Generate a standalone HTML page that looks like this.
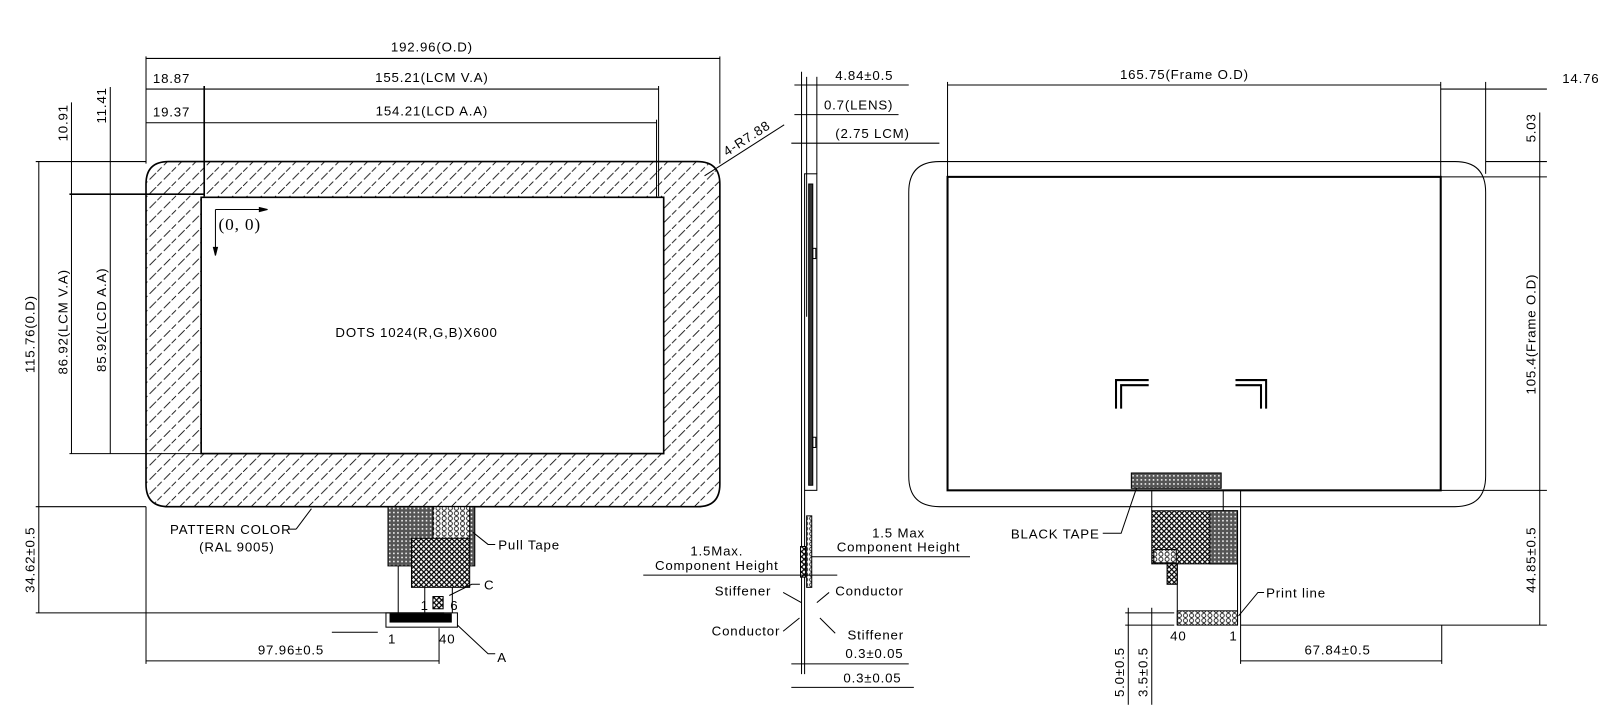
<!DOCTYPE html>
<html><head><meta charset="utf-8"><style>
html,body{margin:0;padding:0;background:#fff;}
svg{display:block}
text{font-family:"Liberation Sans",sans-serif;font-size:13px;fill:#000;letter-spacing:0.8px}
</style></head><body>
<svg width="1600" height="705" viewBox="0 0 1567 690" xmlns="http://www.w3.org/2000/svg">
<defs>
<pattern id="h" width="14" height="14" patternUnits="userSpaceOnUse">
<line x1="-2" y1="16" x2="16" y2="-2" stroke="#000" stroke-width="0.8" stroke-dasharray="9,3"/>
</pattern>
<pattern id="x" width="5" height="5" patternUnits="userSpaceOnUse">
<rect width="5" height="5" fill="#fff"/><path d="M0 0L5 5M5 0L0 5" stroke="#000" stroke-width="1.2"/>
</pattern>
<pattern id="d" width="4" height="4" patternUnits="userSpaceOnUse">
<rect width="4" height="4" fill="#555"/><rect x="1" y="1" width="1.5" height="1.5" fill="#fff"/>
</pattern>
<pattern id="c" width="6" height="5" patternUnits="userSpaceOnUse">
<rect width="6" height="5" fill="#fff"/><circle cx="3" cy="2.5" r="2" fill="none" stroke="#000" stroke-width="0.8"/>
</pattern>
</defs>
<g stroke="#000" fill="none" stroke-width="1">
<!-- LEFT VIEW -->
<path fill="url(#h)" fill-rule="evenodd" stroke-width="1.6" d="M165 158H683Q705 158 705 180V474Q705 496 683 496H165Q143 496 143 474V180Q143 158 165 158ZM197 193V444H650V193Z"/>
<rect x="197" y="193" width="453" height="251" stroke-width="1.2"/>
<line x1="143" y1="55" x2="143" y2="160"/><line x1="705" y1="55" x2="705" y2="160"/>
<line x1="143" y1="57" x2="705" y2="57"/>
<line x1="200" y1="84" x2="200" y2="192" stroke-width="1.6"/><line x1="645" y1="84" x2="645" y2="192"/>
<line x1="143" y1="87" x2="645" y2="87"/>
<line x1="643" y1="117" x2="643" y2="193"/>
<line x1="143" y1="120" x2="643" y2="120"/>
<line x1="35" y1="158" x2="143" y2="158"/><line x1="35" y1="496" x2="143" y2="496"/>
<line x1="38" y1="158" x2="38" y2="496"/>
<line x1="68" y1="190" x2="200" y2="190" stroke-width="1.6"/>
<line x1="68" y1="444" x2="197" y2="444"/>
<line x1="70" y1="100" x2="70" y2="444"/><line x1="108" y1="85" x2="108" y2="444"/>
<line x1="38" y1="496" x2="38" y2="600"/>
<line x1="35" y1="600" x2="435" y2="600"/>
<line x1="143" y1="496" x2="143" y2="650"/>
<line x1="143" y1="647" x2="430" y2="647"/>
<line x1="430" y1="615" x2="430" y2="650"/>
<line x1="211" y1="205" x2="211" y2="250"/><line x1="211" y1="205" x2="262" y2="205"/>
<path d="M262 205L254 203V207Z M211 250L209 242H213Z" fill="#000"/>
<line x1="690" y1="172" x2="768" y2="122"/>
<rect x="380" y="496" width="85" height="58" fill="url(#d)"/>
<rect x="424" y="496" width="36" height="35" fill="url(#c)"/>
<rect x="403" y="527" width="57" height="48" fill="url(#x)"/>
<line x1="390" y1="554" x2="390" y2="600"/>
<line x1="416" y1="575" x2="416" y2="600"/><line x1="443" y1="575" x2="443" y2="600"/>
<rect x="424" y="584" width="10" height="12" fill="url(#x)"/>
<rect x="378" y="600" width="70" height="14"/>
<rect x="382" y="601" width="60" height="8" fill="#000"/>
<line x1="305" y1="498" x2="290" y2="518"/><line x1="290" y1="518" x2="282" y2="518"/>
<path d="M463 521L478 533H485"/>
<path d="M440 583L462 572H470"/>
<path d="M448 612L478 640H485"/>
<line x1="325" y1="619" x2="370" y2="619"/>
<!-- SIDE VIEW -->
<line x1="785" y1="70" x2="785" y2="660"/>
<line x1="790" y1="75" x2="790" y2="310"/>
<line x1="800" y1="75" x2="800" y2="170"/>
<rect x="788" y="170" width="12" height="310"/>
<rect x="792" y="180" width="4" height="295" fill="#333"/>
<rect x="796" y="243" width="3" height="10"/><rect x="796" y="428" width="3" height="10"/>
<line x1="788" y1="480" x2="788" y2="660"/>
<rect x="790" y="505" width="5" height="70" fill="url(#c)"/>
<rect x="784" y="535" width="5" height="30" fill="url(#x)"/>
<line x1="778" y1="83" x2="890" y2="83"/>
<line x1="778" y1="112" x2="880" y2="112"/>
<line x1="775" y1="140" x2="920" y2="140"/>
<line x1="630" y1="563" x2="820" y2="563"/>
<line x1="795" y1="545" x2="950" y2="545"/>
<path d="M767 580L785 590M812 580L800 590"/>
<path d="M767 618L783 605M818 620L803 605"/>
<line x1="775" y1="650" x2="890" y2="650"/>
<line x1="775" y1="673" x2="895" y2="673"/>
<!-- RIGHT VIEW -->
<path d="M920 158H1425Q1455 158 1455 188V466Q1455 496 1425 496H920Q890 496 890 466V188Q890 158 920 158Z"/>
<rect x="928" y="173" width="483" height="307" stroke-width="2"/>
<line x1="928" y1="80" x2="928" y2="173"/><line x1="1411" y1="80" x2="1411" y2="173"/>
<line x1="1455" y1="80" x2="1455" y2="170"/>
<line x1="928" y1="83" x2="1411" y2="83"/>
<line x1="1411" y1="87" x2="1515" y2="87"/>
<line x1="1455" y1="158" x2="1515" y2="158"/>
<line x1="1411" y1="173" x2="1515" y2="173"/>
<line x1="1411" y1="480" x2="1515" y2="480"/>
<line x1="1508" y1="110" x2="1508" y2="612"/>
<line x1="1215" y1="612" x2="1515" y2="612"/>
<line x1="1215" y1="480" x2="1215" y2="650"/>
<line x1="1215" y1="647" x2="1412" y2="647"/>
<line x1="1412" y1="612" x2="1412" y2="650"/>
<path stroke-width="2" d="M1093 400V372H1125M1098 400V377H1125M1240 400V372H1210M1235 400V377H1210"/>
<rect x="1108" y="463" width="88" height="15" fill="url(#d)"/>
<line x1="1128" y1="480" x2="1128" y2="500"/><line x1="1198" y1="480" x2="1198" y2="500"/>
<rect x="1128" y="500" width="84" height="52" fill="url(#x)"/>
<rect x="1185" y="500" width="27" height="52" fill="url(#d)"/>
<rect x="1130" y="538" width="22" height="13" fill="url(#c)"/>
<rect x="1143" y="552" width="10" height="20" fill="url(#x)"/>
<line x1="1153" y1="552" x2="1153" y2="612"/><line x1="1212" y1="552" x2="1212" y2="612"/>
<rect x="1153" y="598" width="59" height="14" fill="url(#c)"/>
<line x1="1102" y1="600" x2="1150" y2="600"/><line x1="1102" y1="612" x2="1150" y2="612"/>
<line x1="1105" y1="595" x2="1105" y2="690"/><line x1="1128" y1="595" x2="1128" y2="690"/>
<path d="M1113 478L1098 522H1080"/>
<path d="M1213 603L1232 580H1238"/>
</g>
<text x="423" y="50" text-anchor="middle">192.96(O.D)</text>
<text x="168" y="81" text-anchor="middle">18.87</text>
<text x="423" y="80" text-anchor="middle">155.21(LCM V.A)</text>
<text x="168" y="114" text-anchor="middle">19.37</text>
<text x="423" y="113" text-anchor="middle">154.21(LCD A.A)</text>
<text transform="translate(712,153) rotate(-33)">4-R7.88</text>
<text transform="translate(34,327) rotate(-90)" text-anchor="middle">115.76(0.D)</text>
<text transform="translate(66,315) rotate(-90)" text-anchor="middle">86.92(LCM V.A)</text>
<text transform="translate(104,313) rotate(-90)" text-anchor="middle">85.92(LCD A.A)</text>
<text transform="translate(66,120) rotate(-90)" text-anchor="middle">10.91</text>
<text transform="translate(104,103) rotate(-90)" text-anchor="middle">11.41</text>
<text transform="translate(34,548) rotate(-90)" text-anchor="middle">34.62±0.5</text>
<text x="285" y="641" text-anchor="middle">97.96±0.5</text>
<text x="214" y="225" style="font-family:'Liberation Serif',serif;font-size:17px">(0, 0)</text>
<text x="408" y="330" text-anchor="middle">DOTS 1024(R,G,B)X600</text>
<text x="226" y="523" text-anchor="middle">PATTERN COLOR</text>
<text x="232" y="540" text-anchor="middle">(RAL 9005)</text>
<text x="488" y="538">Pull Tape</text>
<text x="474" y="577">C</text>
<text x="412" y="597">1</text>
<text x="441" y="597">6</text>
<text x="380" y="630">1</text>
<text x="430" y="630">40</text>
<text x="487" y="648">A</text>
<text x="818" y="78">4.84±0.5</text>
<text x="807" y="107">0.7(LENS)</text>
<text x="818" y="135">(2.75 LCM)</text>
<text x="702" y="544" text-anchor="middle">1.5Max.</text>
<text x="702" y="558" text-anchor="middle">Component Height</text>
<text x="880" y="526" text-anchor="middle">1.5 Max</text>
<text x="880" y="540" text-anchor="middle">Component Height</text>
<text x="700" y="583">Stiffener</text>
<text x="818" y="583">Conductor</text>
<text x="697" y="622">Conductor</text>
<text x="830" y="626">Stiffener</text>
<text x="828" y="644">0.3±0.05</text>
<text x="826" y="668">0.3±0.05</text>
<text x="1160" y="77" text-anchor="middle">165.75(Frame O.D)</text>
<text x="1530" y="81">14.76</text>
<text transform="translate(1504,125) rotate(-90)" text-anchor="middle">5.03</text>
<text transform="translate(1504,327) rotate(-90)" text-anchor="middle">105.4(Frame O.D)</text>
<text transform="translate(1504,548) rotate(-90)" text-anchor="middle">44.85±0.5</text>
<text x="990" y="527">BLACK TAPE</text>
<text x="1240" y="585">Print line</text>
<text x="1146" y="627">40</text>
<text x="1204" y="627">1</text>
<text x="1310" y="641" text-anchor="middle">67.84±0.5</text>
<text transform="translate(1101,658) rotate(-90)" text-anchor="middle">5.0±0.5</text>
<text transform="translate(1124,658) rotate(-90)" text-anchor="middle">3.5±0.5</text>
</svg>
</body></html>
